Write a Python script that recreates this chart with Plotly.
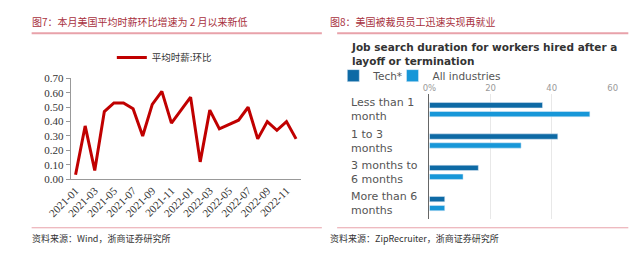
import plotly.graph_objects as go

# ---------------- data ----------------
months = ["2021-01", "2021-02", "2021-03", "2021-04", "2021-05", "2021-06",
          "2021-07", "2021-08", "2021-09", "2021-10", "2021-11", "2021-12",
          "2022-01", "2022-02", "2022-03", "2022-04", "2022-05", "2022-06",
          "2022-07", "2022-08", "2022-09", "2022-10", "2022-11", "2022-12"]
wage_mom = [0.03, 0.37, 0.06, 0.47, 0.53, 0.53, 0.49, 0.30, 0.52, 0.61, 0.39, 0.48,
            0.57, 0.12, 0.48, 0.35, 0.38, 0.41, 0.50, 0.28, 0.40, 0.34, 0.40, 0.28]
y_ticks = [0.0, 0.1, 0.2, 0.3, 0.4, 0.5, 0.6, 0.7]

durations = ["Less than 1 month", "1 to 3 months", "3 months to 6 months", "More than 6 months"]
duration_labels = ["Less than 1<br>month", "1 to 3<br>months",
                   "3 months to<br>6 months", "More than 6<br>months"]
tech_share = [37, 42, 16, 5]
all_share = [52.5, 30, 11, 5]
x2_ticks = [0, 20, 40, 60]
x2_ticktext = ["0%", "20", "40", "60"]

W, H = 640, 260
def px(x): return x / W
def py(y): return 1 - y / H

RED = "#c00000"
TITLE_RED = "#a8313d"
PINK = "#e8a2aa"
TECH = "#0e6aa5"
ALL = "#1797d8"
CJK = "Noto Sans CJK SC"
SERIF = "Liberation Serif"
SANS = "DejaVu Sans"

fig = go.Figure()

# ---- left: line chart ----
xi = list(range(len(months)))
fig.add_trace(go.Scatter(x=xi, y=wage_mom, mode="lines", name="平均时薪:环比",
                         line=dict(color=RED, width=3), xaxis="x", yaxis="y",
                         legend="legend"))

# ---- right: bar chart ----
fig.add_trace(go.Bar(y=durations, x=tech_share, orientation="h", name="Tech*",
                     marker=dict(color=TECH), xaxis="x2", yaxis="y2", legend="legend2"))
fig.add_trace(go.Bar(y=durations, x=all_share, orientation="h", name="All industries",
                     marker=dict(color=ALL), xaxis="x2", yaxis="y2", legend="legend3"))

left_dom = [px(49), px(290)]
leg_common = dict(orientation="h", xanchor="left", yanchor="middle",
                  font=dict(family=SANS, size=10.5, color="#555"),
                  bgcolor="rgba(0,0,0,0)", itemwidth=30)
fig.update_layout(
    width=W, height=H, margin=dict(l=0, r=0, t=0, b=0),
    paper_bgcolor="white", plot_bgcolor="white",
    barmode="group", bargap=0.43, bargroupgap=0.4,
    xaxis=dict(domain=left_dom, range=[-0.5, len(months) - 0.5], anchor="y",
               tickvals=xi[::2], ticktext=months[::2], tickangle=-45,
               ticks="", showline=True, linecolor="#999", linewidth=1,
               showgrid=False, zeroline=False,
               tickfont=dict(family=SERIF, size=11, color="#333")),
    xaxis3=dict(domain=left_dom, range=[-0.5, len(months) - 0.5], anchor="y",
                overlaying="x", tickvals=[v - 0.5 for v in xi[::2]] + [len(months) - 0.5],
                ticks="outside", ticklen=4, tickcolor="#999", showticklabels=False,
                showline=False, showgrid=False, zeroline=False),
    yaxis=dict(domain=[py(181.5), py(76)], range=[0, 0.7], anchor="x",
               tickvals=y_ticks, tickformat=".2f", ticks="outside", ticklen=4,
               tickcolor="#999", showline=True, linecolor="#999", showgrid=False,
               zeroline=False, tickfont=dict(family=SERIF, size=11, color="#333")),
    xaxis2=dict(domain=[px(424.7), px(616.7)], range=[0, 60], anchor="y2", side="top",
                tickvals=x2_ticks, ticktext=x2_ticktext, ticks="", showline=False,
                showgrid=True, gridcolor="#e8e8e8", zeroline=False,
                tickfont=dict(family=SANS, size=8.5, color="#9a9a9a")),
    yaxis2=dict(domain=[py(223.6), py(92.3)], anchor="x2", autorange="reversed",
                showticklabels=False, ticks="", showline=True, linecolor="#666",
                linewidth=1, showgrid=False, zeroline=False),
    legend=dict(orientation="h", x=px(92), y=py(54), xanchor="left", yanchor="middle",
                font=dict(family=CJK, size=9.5, color="#333"), bgcolor="rgba(0,0,0,0)"),
    legend2=dict(x=px(324), y=py(73), **leg_common),
    legend3=dict(x=px(386), y=py(73), **leg_common),
    showlegend=True,
)

shapes = []
for x0, x1 in [(8, 312), (328, 633)]:
    shapes.append(dict(type="line", xref="paper", yref="paper", x0=px(x0), x1=px(x1),
                       y0=py(28.5), y1=py(28.5), line=dict(color=PINK, width=2)))
    shapes.append(dict(type="line", xref="paper", yref="paper", x0=px(x0), x1=px(x1),
                       y0=py(232.5), y1=py(232.5), line=dict(color=PINK, width=1)))
fig.update_layout(shapes=shapes)

ann = [
    dict(text="图7：本月美国平均时薪环比增速为 2 月以来新低", x=px(6), y=py(16),
         font=dict(family=CJK, size=10, color=TITLE_RED)),
    dict(text="图8：美国被裁员员工迅速实现再就业", x=px(318), y=py(16),
         font=dict(family=CJK, size=10, color=TITLE_RED)),
    dict(text="资料来源：Wind，浙商证券研究所", x=px(6), y=py(244),
         font=dict(family=CJK, size=9, color="#333")),
    dict(text="资料来源：ZipRecruiter，浙商证券研究所", x=px(318), y=py(244),
         font=dict(family=CJK, size=9, color="#333")),
    dict(text="<b>Job search duration for workers hired after a<br>layoff or termination</b>",
         x=px(340), y=py(50), align="left",
         font=dict(family=SANS, size=10.5, color="#333")),
]
for a in ann:
    a.update(xref="paper", yref="paper", xanchor="left", yanchor="middle", showarrow=False)

for cat, lab in zip(durations, duration_labels):
    ann.append(dict(text=lab, xref="paper", yref="y2", x=px(340), y=cat, align="left",
                    xanchor="left", yanchor="middle", showarrow=False,
                    font=dict(family=SANS, size=11, color="#555")))
fig.update_layout(annotations=ann)

fig.write_html("out.html")
